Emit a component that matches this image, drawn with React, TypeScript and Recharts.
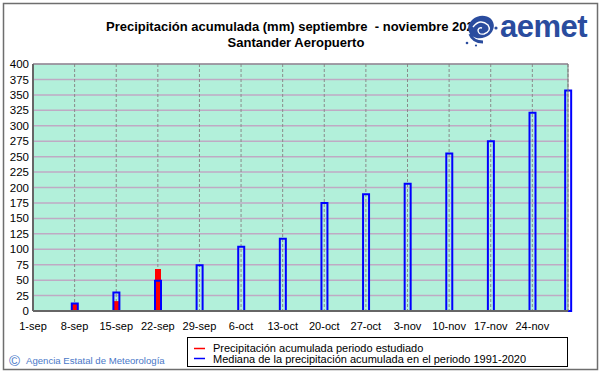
import React from 'react';
import { ComposedChart, Bar, XAxis, YAxis, CartesianGrid, ReferenceLine } from 'recharts';

// days counted from 1-sep; bars sit on each weekly mark plus 30-nov
const DAYS = [7, 14, 21, 28, 35, 42, 49, 56, 63, 70, 77, 84, 90];
// observed accumulated precipitation (only the first three weeks available)
const OBSERVED = [12, 16, 68];
// median accumulated precipitation 1991-2020
const MEDIAN = [12, 30, 49, 74, 104, 117, 175, 189, 206, 255, 275, 321, 357];

const TICK_DAYS = [0, 7, 14, 21, 28, 35, 42, 49, 56, 63, 70, 77, 84];
const TICK_LABELS = ['1-sep', '8-sep', '15-sep', '22-sep', '29-sep', '6-oct', '13-oct', '20-oct', '27-oct', '3-nov', '10-nov', '17-nov', '24-nov'];
const Y_TICKS = [0, 25, 50, 75, 100, 125, 150, 175, 200, 225, 250, 275, 300, 325, 350, 375, 400];

const FONT = '"Liberation Sans", Arial, sans-serif';
const LOGO_BLUE = '#2a4c9e';

const rows = DAYS.map((d, i) => ({
    day: d,
    obs: i < OBSERVED.length ? OBSERVED[i] : null,
    med: MEDIAN[i],
}));

const dayLabel = (v: number) => {
    const i = TICK_DAYS.indexOf(v);
    return i >= 0 ? TICK_LABELS[i] : '';
};

function Overlay() {
    return (
        <svg width={601} height={374} style={{ position: 'absolute', left: 0, top: 0, pointerEvents: 'none' }}>
            {/* outer frame */}
            <rect x={3.5} y={3.5} width={594} height={366} fill="none" stroke="#6e6e6e" strokeWidth={1.5} />

            {/* title */}
            <text x={106} y={31} fontFamily={FONT} fontWeight="bold" fontSize={13} fill="#000" xmlSpace="preserve">
                Precipitación acumulada (mm) septiembre  - noviembre 2020
            </text>
            <text x={296} y={47} fontFamily={FONT} fontWeight="bold" fontSize={13} fill="#000" textAnchor="middle">
                Santander Aeropuerto
            </text>

            {/* aemet logo (approximation) */}
            <g>
                <ellipse cx={481} cy={27} rx={13} ry={11} fill={LOGO_BLUE} transform="rotate(-20 481 27)" />
                <path d="M473,27 q7,-9 15,-2 q4,6 -4,9 q-6,1 -6,-4 q1,-3 4,-2" stroke="#fff" strokeWidth={1.4} fill="none" />
                <path d="M470,34 q3,8 13,8" stroke={LOGO_BLUE} strokeWidth={3} fill="none" />
                <circle cx={496} cy={28} r={1.6} fill={LOGO_BLUE} />
                <circle cx={467} cy={43} r={1.3} fill={LOGO_BLUE} />
                <circle cx={476} cy={45.5} r={1.1} fill={LOGO_BLUE} />
                <text x={500} y={37} fontFamily={FONT} fontWeight="bold" fontSize={31} fill={LOGO_BLUE} letterSpacing={-0.5}>
                    aemet
                </text>
            </g>

            {/* legend */}
            <rect x={187.5} y={337.5} width={380} height={29} fill="#fff" stroke="#000" strokeWidth={1} />
            <line x1={194} y1={348.5} x2={205} y2={348.5} stroke="#ff0000" strokeWidth={1.5} />
            <line x1={194} y1={358.5} x2={205} y2={358.5} stroke="#0000ff" strokeWidth={1.5} />
            <text x={213} y={352} fontFamily={FONT} fontSize={11} fill="#000">
                Precipitación acumulada periodo estudiado
            </text>
            <text x={213} y={363} fontFamily={FONT} fontSize={11} fill="#000">
                Mediana de la precipitación acumulada en el periodo 1991-2020
            </text>

            {/* footer */}
            <text x={9} y={366} fontFamily={FONT} fontSize={15} fill="#4a78c8">©</text>
            <text x={26} y={364} fontFamily={FONT} fontSize={9.6} fill="#4a78c8">
                Agencia Estatal de Meteorología
            </text>
        </svg>
    );
}

export default function App() {
    return (
        <div style={{ position: 'absolute', left: 0, top: 0, width: 601, height: 374, background: '#fff' }}>
            <ComposedChart
                width={601}
                height={374}
                data={rows}
                margin={{ top: 64, right: 33, bottom: 43, left: 3 }}
            >
                <CartesianGrid
                    vertical={false}
                    stroke="#bfaac4"
                    strokeWidth={1.5}
                    fill="#b2f0da"
                    fillOpacity={1}
                />
                <CartesianGrid horizontal={false} stroke="#8a8a8a" strokeDasharray="3 2" />
                <XAxis
                    dataKey="day"
                    type="number"
                    domain={[0, 90]}
                    ticks={TICK_DAYS}
                    interval={0}
                    tickFormatter={dayLabel}
                    tickLine={false}
                    tickSize={6}
                    tickMargin={5}
                    height={20}
                    axisLine={{ stroke: '#666', strokeWidth: 2 }}
                    tick={{ fill: '#000', fontSize: 11, fontFamily: FONT }}
                />
                <XAxis xAxisId="b" dataKey="day" type="number" domain={[0, 90]} ticks={TICK_DAYS} hide />
                <YAxis
                    domain={[0, 400]}
                    ticks={Y_TICKS}
                    interval={0}
                    width={30}
                    tickLine={false}
                    tickSize={2}
                    tickMargin={2}
                    axisLine={{ stroke: '#666', strokeWidth: 2 }}
                    tick={{ fill: '#000', fontSize: 11.5, fontFamily: FONT }}
                />
                <ReferenceLine y={400} stroke="#7a7a7a" strokeWidth={1} />
                <ReferenceLine x={90} stroke="#7a7a7a" strokeWidth={1} />
                <Bar dataKey="obs" fill="#ff0000" barSize={6} isAnimationActive={false} />
                <Bar
                    xAxisId="b"
                    dataKey="med"
                    fill="none"
                    stroke="#0000ff"
                    strokeWidth={2}
                    barSize={6}
                    isAnimationActive={false}
                />
            </ComposedChart>
            <Overlay />
        </div>
    );
}
